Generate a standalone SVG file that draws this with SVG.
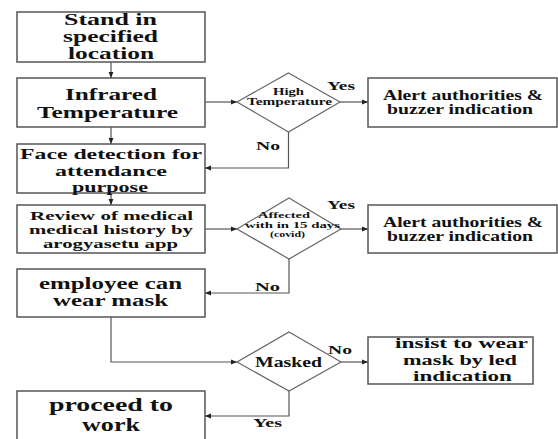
<svg xmlns="http://www.w3.org/2000/svg" width="558" height="439" viewBox="0 0 558 439">
<defs>
<style>
.box{fill:#fff;stroke:#555;stroke-width:1.5}
.dia{fill:#fff;stroke:#666;stroke-width:1.2}
.con{fill:none;stroke:#555;stroke-width:1.2}
text{font-family:"Liberation Serif","Times New Roman",serif;font-weight:bold;fill:#111}
.lbl{font-size:12px}
</style>
<marker id="ah" viewBox="0 0 10 10" refX="10" refY="5" markerWidth="8" markerHeight="6" orient="auto" markerUnits="userSpaceOnUse">
<path d="M0,1 L10,5 L0,9 z" fill="#222"/>
</marker>
</defs>
<rect width="558" height="439" fill="#fff"/>

<g id="connectors">
<path class="con" d="M111,62 V78" marker-end="url(#ah)"/>
<path class="con" d="M111,127 V144" marker-end="url(#ah)"/>
<path class="con" d="M111,193 V205" marker-end="url(#ah)"/>
<path class="con" d="M205,102 H237" marker-end="url(#ah)"/>
<path class="con" d="M340,102 H368" marker-end="url(#ah)"/>
<path class="con" d="M288.5,132 V168 H205" marker-end="url(#ah)"/>
<path class="con" d="M205,229 H237" marker-end="url(#ah)"/>
<path class="con" d="M341,229 H368" marker-end="url(#ah)"/>
<path class="con" d="M289,259 V293 H205" marker-end="url(#ah)"/>
<path class="con" d="M111,317 V362 H237" marker-end="url(#ah)"/>
<path class="con" d="M341,362 H368" marker-end="url(#ah)"/>
<path class="con" d="M289,391 V416 H205" marker-end="url(#ah)"/>
<text class="lbl" x="327" y="90" textLength="28" lengthAdjust="spacingAndGlyphs">Yes</text>
<text class="lbl" x="256" y="150" textLength="24" lengthAdjust="spacingAndGlyphs">No</text>
<text class="lbl" x="327" y="209" textLength="28" lengthAdjust="spacingAndGlyphs">Yes</text>
<text class="lbl" x="255" y="291" textLength="25" lengthAdjust="spacingAndGlyphs">No</text>
<text class="lbl" x="328" y="354" textLength="24" lengthAdjust="spacingAndGlyphs">No</text>
<text class="lbl" x="253" y="427" textLength="29" lengthAdjust="spacingAndGlyphs">Yes</text>
</g>

<g id="stand">
<rect class="box" x="17" y="12" width="188" height="50"/>
<text font-size="16" x="64" y="25" textLength="93" lengthAdjust="spacingAndGlyphs">Stand in</text>
<text font-size="16" x="63" y="42" textLength="95" lengthAdjust="spacingAndGlyphs">specified</text>
<text font-size="16" x="68" y="59" textLength="86" lengthAdjust="spacingAndGlyphs">location</text>
</g>

<g id="infrared">
<rect class="box" x="17" y="78" width="188" height="49"/>
<text font-size="17" x="65" y="100" textLength="92" lengthAdjust="spacingAndGlyphs">Infrared</text>
<text font-size="17" x="37" y="118" textLength="141" lengthAdjust="spacingAndGlyphs">Temperature</text>
</g>

<g id="face">
<rect class="box" x="17" y="144" width="188" height="49"/>
<text font-size="14.5" x="20" y="159" textLength="182" lengthAdjust="spacingAndGlyphs">Face detection for</text>
<text font-size="14.5" x="55" y="175.5" textLength="112" lengthAdjust="spacingAndGlyphs">attendance</text>
<text font-size="14.5" x="72" y="191.5" textLength="76" lengthAdjust="spacingAndGlyphs">purpose</text>
</g>

<g id="review">
<rect class="box" x="17" y="205" width="188" height="48"/>
<text font-size="13" x="30" y="220" textLength="163" lengthAdjust="spacingAndGlyphs">Review of medical</text>
<text font-size="13" x="29" y="234" textLength="164" lengthAdjust="spacingAndGlyphs">medical history by</text>
<text font-size="13" x="43" y="248" textLength="135" lengthAdjust="spacingAndGlyphs">arogyasetu app</text>
</g>

<g id="employee">
<rect class="box" x="17" y="269" width="188" height="48"/>
<text font-size="16" x="39" y="289" textLength="143" lengthAdjust="spacingAndGlyphs">employee can</text>
<text font-size="16" x="53" y="306" textLength="115" lengthAdjust="spacingAndGlyphs">wear mask</text>
</g>

<g id="proceed">
<rect class="box" x="17" y="391" width="188" height="60"/>
<text font-size="18" x="49" y="411" textLength="124" lengthAdjust="spacingAndGlyphs">proceed to</text>
<text font-size="18" x="82" y="431" textLength="58" lengthAdjust="spacingAndGlyphs">work</text>
</g>

<g id="highTemp">
<polygon class="dia" points="288.5,73 340,102 288.5,132 237,102"/>
<text font-size="9.5" x="273" y="95" textLength="31" lengthAdjust="spacingAndGlyphs">High</text>
<text font-size="9.5" x="247" y="105" textLength="85" lengthAdjust="spacingAndGlyphs">Temperature</text>
</g>

<g id="alert1">
<rect class="box" x="368" y="78" width="189" height="49"/>
<text font-size="14" x="383" y="100" textLength="160" lengthAdjust="spacingAndGlyphs">Alert authorities &amp;</text>
<text font-size="14" x="387" y="114" textLength="146" lengthAdjust="spacingAndGlyphs">buzzer indication</text>
</g>

<g id="affected">
<polygon class="dia" points="289,198 341,229 289,259 237,229"/>
<text font-size="9" x="258" y="218" textLength="52" lengthAdjust="spacingAndGlyphs">Affected</text>
<text font-size="9" x="245" y="228" textLength="95" lengthAdjust="spacingAndGlyphs">with in 15 days</text>
<text font-size="9" x="270" y="237" textLength="35" lengthAdjust="spacingAndGlyphs">(covid)</text>
</g>

<g id="alert2">
<rect class="box" x="368" y="205" width="189" height="48"/>
<text font-size="14" x="383" y="227" textLength="160" lengthAdjust="spacingAndGlyphs">Alert authorities &amp;</text>
<text font-size="14" x="387" y="241" textLength="146" lengthAdjust="spacingAndGlyphs">buzzer indication</text>
</g>

<g id="masked">
<polygon class="dia" points="289,332 341,362 289,391 237,362"/>
<text font-size="14" x="255" y="367" textLength="67" lengthAdjust="spacingAndGlyphs">Masked</text>
</g>

<g id="insist">
<rect class="box" x="368" y="337" width="165" height="47"/>
<text font-size="15" x="395" y="348" textLength="133" lengthAdjust="spacingAndGlyphs">insist to wear</text>
<text font-size="15" x="403" y="365" textLength="114" lengthAdjust="spacingAndGlyphs">mask by led</text>
<text font-size="15" x="413" y="381" textLength="99" lengthAdjust="spacingAndGlyphs">indication</text>
</g>
</svg>
